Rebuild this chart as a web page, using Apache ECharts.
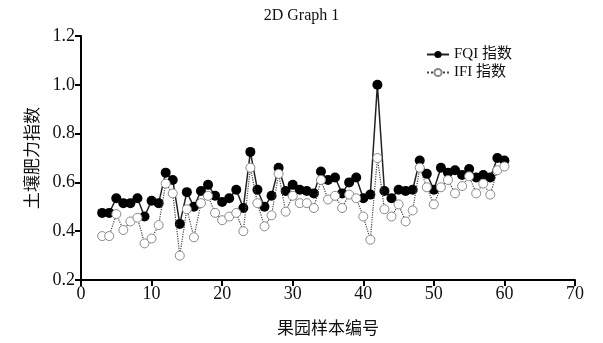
<!DOCTYPE html>
<html>
<head>
<meta charset="utf-8">
<script src="https://cdn.jsdelivr.net/npm/echarts@6/dist/echarts.min.js"></script>
<style>
  html, body { margin: 0; padding: 0; background: #fff; }
  #main { width: 603px; height: 343px; }
</style>
</head>
<body>
<div id="main"></div>
<script>
// 果园样本编号
var sampleIds = [3, 4, 5, 6, 7, 8, 9, 10, 11, 12, 13, 14, 15, 16, 17, 18, 19, 20,
    21, 22, 23, 24, 25, 26, 27, 28, 29, 30, 31, 32, 33, 34, 35, 36, 37, 38, 39, 40,
    41, 42, 43, 44, 45, 46, 47, 48, 49, 50, 51, 52, 53, 54, 55, 56, 57, 58, 59, 60];

// FQI 指数
var fqiValues = [0.475, 0.475, 0.535, 0.515, 0.515, 0.535, 0.46, 0.525, 0.515, 0.64,
    0.61, 0.43, 0.56, 0.50, 0.565, 0.59, 0.545, 0.52, 0.535, 0.57,
    0.495, 0.725, 0.57, 0.50, 0.545, 0.66, 0.565, 0.59, 0.57, 0.565,
    0.555, 0.645, 0.61, 0.62, 0.555, 0.60, 0.62, 0.535, 0.55, 1.0,
    0.565, 0.535, 0.57, 0.565, 0.57, 0.69, 0.635, 0.57, 0.66, 0.64,
    0.65, 0.63, 0.655, 0.62, 0.63, 0.62, 0.70, 0.69];

// IFI 指数
var ifiValues = [0.38, 0.38, 0.47, 0.405, 0.44, 0.455, 0.35, 0.37, 0.425, 0.595,
    0.555, 0.30, 0.49, 0.375, 0.515, 0.545, 0.475, 0.445, 0.46, 0.475,
    0.40, 0.66, 0.515, 0.42, 0.465, 0.635, 0.48, 0.545, 0.515, 0.515,
    0.495, 0.61, 0.53, 0.545, 0.495, 0.55, 0.535, 0.46, 0.365, 0.70,
    0.49, 0.46, 0.51, 0.44, 0.485, 0.66, 0.58, 0.51, 0.58, 0.61,
    0.555, 0.585, 0.625, 0.555, 0.595, 0.55, 0.65, 0.665];

var seriesNames = ['FQI 指数', 'IFI 指数'];

var serif = 'Liberation Serif';
var cjk = "'Liberation Serif', 'Noto Sans CJK SC'";

function pairs(vals) {
    return sampleIds.map(function(id, i) { return [id, vals[i]]; });
}

var chart = echarts.init(document.getElementById('main'));

var option = {
    animation: false,
    title: {
        text: '2D Graph 1',
        left: 'center',
        top: 3,
        textStyle: { fontFamily: serif, fontSize: 16, fontWeight: 'normal', color: '#111' }
    },
    legend: {
        orient: 'vertical',
        left: 421,
        top: 42,
        itemWidth: 22,
        itemHeight: 9,
        itemGap: 3,
        textStyle: { fontFamily: cjk, fontSize: 15, color: '#111' },
        data: seriesNames
    },
    grid: { left: 81, right: 28, top: 36, bottom: 62 },
    xAxis: {
        type: 'value',
        min: 0,
        max: 70,
        interval: 10,
        name: '果园样本编号',
        nameLocation: 'middle',
        nameGap: 41,
        nameTextStyle: { fontFamily: cjk, fontSize: 17, color: '#111' },
        splitLine: { show: false },
        axisLine: { lineStyle: { color: '#000', width: 2 } },
        axisTick: { lineStyle: { color: '#000', width: 2 }, length: 6 },
        axisLabel: { fontFamily: serif, fontSize: 18, color: '#111', margin: 5 }
    },
    yAxis: {
        type: 'value',
        min: 0.2,
        max: 1.2,
        interval: 0.2,
        name: '土壤肥力指数',
        nameLocation: 'middle',
        nameGap: 35,
        nameTextStyle: { fontFamily: cjk, fontSize: 17, color: '#111' },
        splitLine: { show: false },
        axisLine: { show: true, lineStyle: { color: '#000', width: 2 } },
        axisTick: { show: true, lineStyle: { color: '#000', width: 2 }, length: 6 },
        axisLabel: {
            fontFamily: serif, fontSize: 18, color: '#111', margin: 6,
            formatter: function(v) { return v.toFixed(1); }
        }
    },
    series: [
        {
            name: seriesNames[0],
            type: 'line',
            data: pairs(fqiValues),
            symbol: 'circle',
            symbolSize: 10,
            itemStyle: { color: '#000' },
            lineStyle: { color: '#222', width: 1.5 },
            z: 2
        },
        {
            name: seriesNames[1],
            type: 'line',
            data: pairs(ifiValues),
            symbol: 'circle',
            symbolSize: 9,
            itemStyle: { color: '#fff', borderColor: '#888', borderWidth: 1 },
            lineStyle: { color: '#444', width: 1.2, type: 'dotted' },
            z: 3
        }
    ]
};

chart.setOption(option);
</script>
</body>
</html>
